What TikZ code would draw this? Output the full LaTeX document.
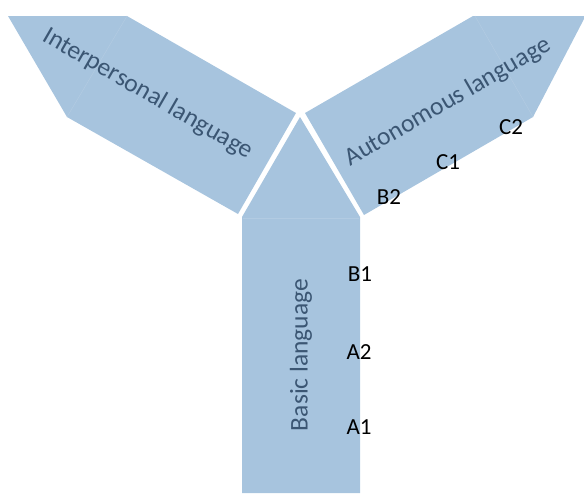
\documentclass[tikz,border=0pt]{standalone}
\usepackage{fontspec}
\setmainfont{Carlito}
\definecolor{armfill}{RGB}{167,196,222}
\definecolor{armseam}{RGB}{178,203,226}
\definecolor{armtext}{RGB}{59,86,115}

\begin{document}
\begin{tikzpicture}[
        x=1pt, y=-1pt,
        arm/.style = {fill=armfill},
        seam/.style = {draw=armseam, line width=0.5pt},
        armlabel/.style = {text=armtext, font=\fontsize{25.5}{30}\selectfont, inner sep=0pt},
        level/.style = {text=black, font=\fontsize{23}{27}\selectfont, inner sep=0pt}
        ]
        \useasboundingbox (0,0) rectangle (584,493);

        % the three arms
        \fill[arm] (242,493) -- (242,217) -- (300,117) -- (360,217) -- (360,493) -- cycle;
        \fill[arm] (8,16) -- (127,16) -- (296,113) -- (238,214) -- (67,117) -- cycle;
        \fill[arm] (305,113) -- (473,16) -- (584,16) -- (584,19) -- (533,117) -- (364,215) -- cycle;

        % faint seams
        \draw[seam] (127,16) -- (67,117);
        \draw[seam] (475,16) -- (533,117);
        \draw[seam] (243,218) -- (359,218);

        % arm texts
        \node (inter) at (148,94)  [armlabel, rotate=-30] {Interpersonal language};
        \node (auto)  at (448,102) [armlabel, rotate=30]  {Autonomous language};
        \node (basic) at (301,355) [armlabel, rotate=90]  {Basic language};

        % levels
        \node (A1) at (359,427) [level] {A1};
        \node (A2) at (359,352) [level] {A2};
        \node (B1) at (360,274) [level] {B1};
        \node (B2) at (389,197) [level] {B2};
        \node (C1) at (448,162) [level] {C1};
        \node (C2) at (511,127) [level] {C2};
    \end{tikzpicture}
\end{document}
